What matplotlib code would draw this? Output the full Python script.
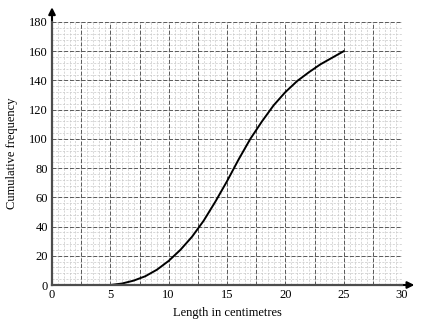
import matplotlib
matplotlib.use("Agg")
import matplotlib.pyplot as plt
import numpy as np

plt.rcParams["font.family"] = ["Liberation Serif", "DejaVu Serif"]

# values
length_cm = [5, 6, 7, 8, 9, 10, 11, 12, 13, 14, 15, 16, 17, 18, 19, 20, 21, 22, 23, 24, 25]
cum_freq = [0, 1, 3, 6, 10.5, 16.5, 24, 33, 44, 57, 71, 86, 100, 112, 123, 132, 139.5, 145.5, 151, 155.5, 160]

x_ticks = [0, 5, 10, 15, 20, 25, 30]
y_ticks = [0, 20, 40, 60, 80, 100, 120, 140, 160, 180]

fig = plt.figure(figsize=(4.24, 3.2), dpi=100)
ax = fig.add_axes([52 / 424, 35 / 320, 350 / 424, 263 / 320])
ax.set_xlim(0, 30)
ax.set_ylim(0, 180)

# graph-paper grid
for v in np.arange(0.5, 30.01, 0.5):
    ax.axvline(v, color="0.78", lw=0.5, ls=(0, (3, 2)), zorder=0)
for v in np.arange(4, 180.01, 4):
    ax.axhline(v, color="0.78", lw=0.5, ls=(0, (3, 2)), zorder=0)
for v in np.arange(2.5, 30.01, 2.5):
    ax.axvline(v, color="0.35", lw=0.7, ls=(0, (4, 2)), zorder=1)
for v in np.arange(20, 180.01, 20):
    ax.axhline(v, color="0.35", lw=0.7, ls=(0, (4, 2)), zorder=1)

ax.plot(length_cm, cum_freq, color="black", lw=1.4, zorder=3)

for s in ["top", "right"]:
    ax.spines[s].set_visible(False)
for s in ["left", "bottom"]:
    ax.spines[s].set_color("0.3")
    ax.spines[s].set_linewidth(1.6)
    ax.spines[s].set_zorder(4)

# arrow heads on the axes
ax.annotate("", xy=(31.3, 0), xytext=(29.5, 0), xycoords="data",
            arrowprops=dict(arrowstyle="-|>", color="black", lw=1.5,
                            mutation_scale=10), annotation_clip=False)
ax.annotate("", xy=(0, 192), xytext=(0, 178), xycoords="data",
            arrowprops=dict(arrowstyle="-|>", color="black", lw=1.5,
                            mutation_scale=10), annotation_clip=False)

ax.set_xticks(x_ticks)
ax.set_yticks(y_ticks)
ax.tick_params(length=0, labelsize=9, pad=3)
ax.set_xlabel("Length in centimetres", fontsize=9, labelpad=4)
ax.set_ylabel("Cumulative frequency", fontsize=9, labelpad=8)

fig.savefig("out.png", dpi=100)
